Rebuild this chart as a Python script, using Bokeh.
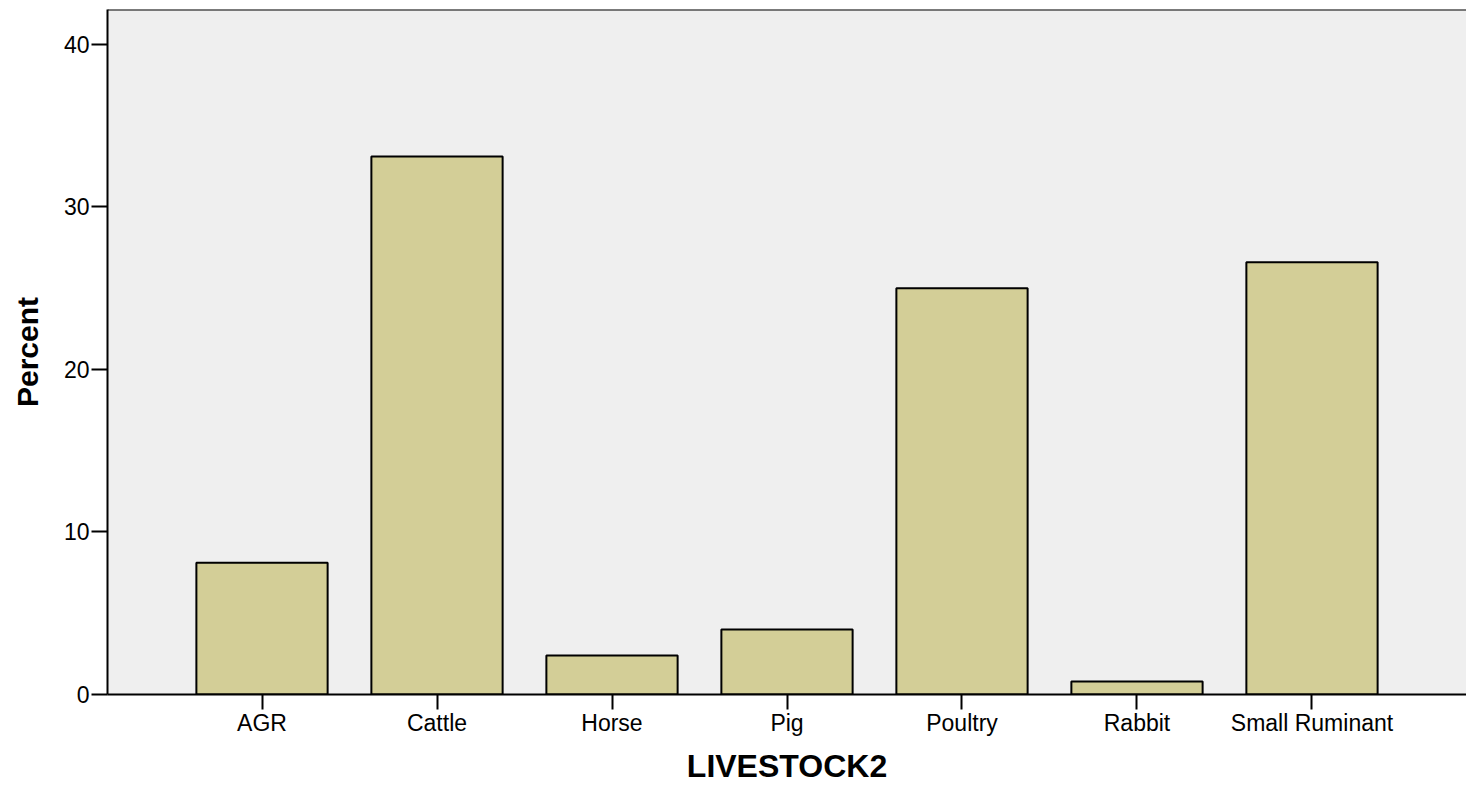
from bokeh.plotting import figure
from bokeh.models import FactorRange, Range1d, FixedTicker, Span, ColumnDataSource
from bokeh.embed import file_html
from bokeh.resources import INLINE

categories = ["AGR", "Cattle", "Horse", "Pig", "Poultry", "Rabbit", "Small Ruminant"]
percent = [8.1, 33.1, 2.4, 4.0, 25.0, 0.8, 26.6]
y_ticks = [0, 10, 20, 30, 40]

src = ColumnDataSource(dict(cat=categories, pct=percent))

p = figure(
    x_range=FactorRange(factors=categories, range_padding=0.1094, range_padding_units="percent"),
    y_range=Range1d(0, 42.15),
    width=1466, height=782,
    frame_width=1359, frame_height=685,
    min_border_left=107, min_border_top=9, min_border_right=0, min_border_bottom=0,
    output_backend="svg", toolbar_location=None,
)
p.background_fill_color = "#EFEFEF"
p.border_fill_color = "white"
p.outline_line_color = None
p.xgrid.visible = False
p.ygrid.visible = False

p.vbar(x="cat", top="pct", width=0.75, source=src,
       fill_color="#D3CE97", line_color="black", line_width=2)

p.add_layout(Span(location=42.15, dimension="width", line_color="black", line_width=2))

p.yaxis.ticker = FixedTicker(ticks=y_ticks)
for ax in (p.xaxis, p.yaxis):
    ax.axis_line_width = 2
    ax.axis_line_color = "black"
    ax.major_tick_line_width = 2
    ax.major_tick_line_color = "black"
    ax.major_tick_in = 0
    ax.minor_tick_line_color = None
    ax.major_label_text_font = "Liberation Sans"
    ax.major_label_text_font_size = "23px"
    ax.major_label_text_color = "black"
    ax.axis_label_text_font = "Liberation Sans"
    ax.axis_label_text_font_style = "bold"
    ax.axis_label_text_color = "black"

p.xaxis.major_tick_out = 15
p.yaxis.major_tick_out = 16
p.xaxis.major_label_standoff = 0
p.yaxis.major_label_standoff = 2
p.xaxis.axis_label = "LIVESTOCK2"
p.yaxis.axis_label = "Percent"
p.xaxis.axis_label_text_font_size = "32px"
p.yaxis.axis_label_text_font_size = "30px"
p.xaxis.axis_label_standoff = 9
p.yaxis.axis_label_standoff = 17

open("out.html", "w").write(file_html(p, INLINE))
